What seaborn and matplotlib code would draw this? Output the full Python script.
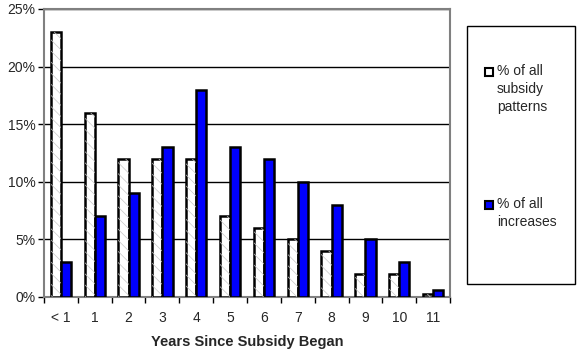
import numpy as np
import pandas as pd
import seaborn as sns
import matplotlib.pyplot as plt
from matplotlib.patches import Rectangle
from matplotlib.ticker import PercentFormatter, MultipleLocator

# data (percent)
years = ["< 1", "1", "2", "3", "4", "5", "6", "7", "8", "9", "10", "11"]
pct_patterns = [23, 16, 12, 12, 12, 7, 6, 5, 4, 2, 2, 0.3]
pct_increases = [3, 7, 9, 13, 18, 13, 12, 10, 8, 5, 3, 0.6]
series_names = ["% of all\nsubsidy\npatterns", "% of all\nincreases"]

df = pd.DataFrame({
    "year": years * 2,
    "pct": pct_patterns + pct_increases,
    "series": [series_names[0]] * len(years) + [series_names[1]] * len(years),
})

sns.set_style("white")
plt.rcParams["font.family"] = ["Liberation Sans", "DejaVu Sans"]
plt.rcParams["hatch.linewidth"] = 0.5

fig = plt.figure(figsize=(5.78, 3.55), dpi=100)
ax = fig.add_axes([44 / 578, 1 - 297 / 355, 406 / 578, 288 / 355])

palette = {series_names[0]: "white", series_names[1]: "#0000ff"}
sns.barplot(data=df, x="year", y="pct", hue="series", order=years,
            hue_order=series_names, palette=palette, width=0.6, gap=0,
            edgecolor="black", linewidth=1.8, saturation=1, legend=False,
            ax=ax, zorder=3)

# light grey diagonal texture on the white bars
for p in list(ax.patches):
    fc = p.get_facecolor()
    if fc[2] > 0.9 and fc[0] > 0.9:
        ax.add_patch(Rectangle(p.get_xy(), p.get_width(), p.get_height(),
                               facecolor="none", edgecolor="#c8c8c8",
                               hatch="\\\\\\", linewidth=0, zorder=3.5))

ax.set_ylim(0, 25)
ax.set_xlim(-0.5, len(years) - 0.5)
ax.yaxis.set_major_locator(MultipleLocator(5))
ax.yaxis.set_major_formatter(PercentFormatter(decimals=0))
ax.grid(axis="y", color="black", linewidth=1, zorder=0)
ax.set_axisbelow(True)

# category boundary ticks on x
ax.set_xticks(np.arange(len(years) + 1) - 0.5, minor=True)
ax.tick_params(axis="x", which="major", length=0, pad=10, labelsize=10)
ax.tick_params(axis="x", which="minor", length=4, width=1, color="black",
               direction="out", bottom=True)
ax.tick_params(axis="y", which="major", length=4, width=1, color="black",
               direction="out", left=True, labelsize=10, pad=2)

for side in ["left", "bottom", "top", "right"]:
    ax.spines[side].set_color("#808080")
    ax.spines[side].set_linewidth(1.5)
ax.spines["top"].set_linestyle((0, (1, 1)))
ax.spines["right"].set_linestyle((0, (1, 1)))

ax.set_ylabel("")
ax.set_xlabel("Years Since Subsidy Began", fontsize=10.5, fontweight="bold",
              labelpad=7)

# legend box on the right
fig.patches.append(Rectangle((467 / 578, 1 - 284 / 355), 108 / 578, 258 / 355,
                             transform=fig.transFigure, facecolor="white",
                             edgecolor="black", linewidth=1))
legend_y = [72, 205]
for name, y_px in zip(series_names, legend_y):
    fc = palette[name]
    sq = Rectangle((485 / 578, 1 - (y_px + 4) / 355), 8 / 578, 8 / 355,
                   transform=fig.transFigure, facecolor=fc,
                   edgecolor="black", linewidth=1.5)
    fig.patches.append(sq)
    fig.text(497 / 578, 1 - (y_px - 8) / 355, name, fontsize=10,
             va="top", ha="left", linespacing=1.35)

fig.savefig("out.png", dpi=100)
